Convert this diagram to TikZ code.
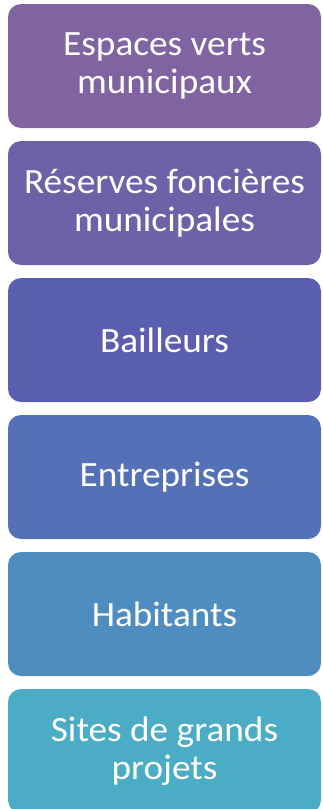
\documentclass[tikz,border=0pt]{standalone}
\usepackage{fontspec}
\setmainfont[FakeStretch=1.05]{Carlito}
\newlength{\du}
\setlength{\du}{1pt}
\tikzset{boite/.style={rounded corners=13\du, minimum width=313\du, minimum height=124\du,
  inner sep=0pt, outer sep=0pt, text=white, align=center, anchor=north west,
  font=\fontsize{35.5\du}{37.6\du}\selectfont}}
\begin{document}
\begin{tikzpicture}
\useasboundingbox (0,0) rectangle (323\du,-809\du);
\definecolor{boiteun}{HTML}{8064A2}
\definecolor{boitedeux}{HTML}{6D62A8}
\definecolor{boitetrois}{HTML}{5A5EAE}
\definecolor{boitequatre}{HTML}{5471B7}
\definecolor{boitecinq}{HTML}{4F8DC0}
\definecolor{boitesix}{HTML}{4BACC6}
% liste verticale
\node[boite, fill=boiteun] (espaces) at (8\du,-4\du) {Espaces verts\\municipaux};
\node[boite, fill=boitedeux] (reserves) at (8\du,-141\du) {Réserves foncières\\municipales};
\node[boite, fill=boitetrois] (bailleurs) at (8\du,-278\du) {Bailleurs};
\node[boite, fill=boitequatre] (entreprises) at (8\du,-415\du) {Entreprises};
\node[boite, fill=boitecinq] (habitants) at (8\du,-552\du) {Habitants};
\node[boite, fill=boitesix] (sites) at (8\du,-689\du) {Sites de grands\\projets};
\end{tikzpicture}
\end{document}
